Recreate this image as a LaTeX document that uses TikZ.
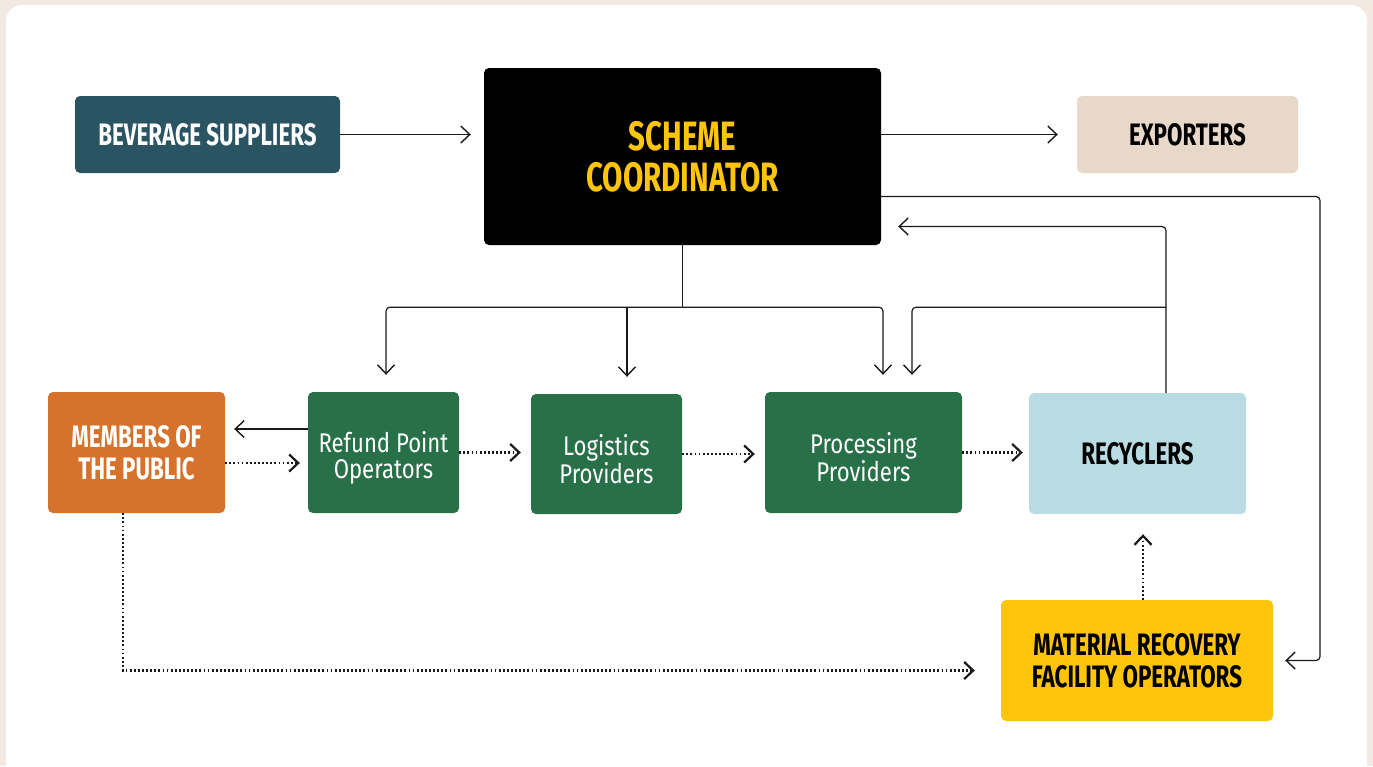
\documentclass[tikz,border=0pt]{standalone}
\usepackage{fontspec}
\usetikzlibrary{arrows.meta,calc}
\newfontfamily\labelfont{Fira Sans}[FakeStretch=0.72]
\newfontfamily\namefont{Fira Sans}[FakeStretch=0.82]
% taller first line pushes two-line names slightly down in their box
\newcommand{\toppad}{\rule{0pt}{31pt}}

\definecolor{pagebg}{HTML}{F2E9E2}
\definecolor{tealbox}{HTML}{2B5463}
\definecolor{orangebox}{HTML}{D6722B}
\definecolor{greenbox}{HTML}{287048}
\definecolor{bluebox}{HTML}{B8DCE1}
\definecolor{yellowbox}{HTML}{FFC40C}
\definecolor{sandbox}{HTML}{E7D8C9}
\definecolor{linecol}{HTML}{1A1A1A}

\tikzset{
  box/.style={rounded corners=5pt, inner sep=0pt, align=center, draw=none},
  capsbox/.style={box, font=\labelfont\bfseries\fontsize{31}{32}\selectfont},
  mixbox/.style={box, font=\namefont\fontsize{27}{26}\selectfont, fill=greenbox, text=white},
  solidarr/.style={draw=linecol, line width=1.2pt, rounded corners=4pt,
    -{Straight Barb[length=9pt,width=17pt,line width=1.4pt]}},
  plainline/.style={draw=linecol, line width=1.2pt, rounded corners=4pt},
  dotarr/.style={draw=linecol, line width=2.2pt, dash pattern=on 1.8pt off 2.3pt,
    -{Straight Barb[length=9pt,width=17pt,line width=2.2pt,sep=0pt]}},
}

\begin{document}
\begin{tikzpicture}[x=1pt,y=-1pt]
\useasboundingbox (0,0) rectangle (1373,766);
% page backdrop
\begin{scope}
  \clip (0,0) rectangle (1373,766);
  \fill[pagebg] (0,0) rectangle (1373,766);
  \fill[white, rounded corners=16pt] (6,5) rectangle (1367,800);
\end{scope}

% boxes
\node[capsbox, fill=tealbox, text=white, minimum width=265pt, minimum height=77pt]
  (bev) at (207.5,134.5) {BEVERAGE SUPPLIERS};
\node[box, fill=black, text=yellowbox, minimum width=397pt, minimum height=177pt,
  font=\labelfont\bfseries\fontsize{41}{41}\selectfont]
  (sc) at (682.5,156.5) {SCHEME\\COORDINATOR};
\node[capsbox, fill=sandbox, text=black, minimum width=221pt, minimum height=77pt]
  (ex) at (1187.5,134.5) {EXPORTERS};
\node[capsbox, fill=orangebox, text=white, minimum width=177pt, minimum height=121pt]
  (mp) at (136.5,452.5) {MEMBERS OF\\THE PUBLIC};
\node[mixbox, minimum width=151pt, minimum height=121pt]
  (rpo) at (383.5,452.5) {\toppad Refund Point\\Operators};
\node[mixbox, minimum width=151pt, minimum height=120pt]
  (lp) at (606.5,454) {\toppad Logistics\\Providers};
\node[mixbox, minimum width=197pt, minimum height=121pt]
  (proc) at (863.5,452.5) {\toppad Processing\\Providers};
\node[capsbox, fill=bluebox, text=black, minimum width=217pt, minimum height=121pt]
  (rec) at (1137.5,453.5) {RECYCLERS};
\node[capsbox, fill=yellowbox, text=black, minimum width=272pt, minimum height=121pt]
  (mrf) at (1137,660.5) {MATERIAL RECOVERY\\FACILITY OPERATORS};

% helper coordinates for the routing rails
\coordinate (bus) at ($(sc.south)+(0,62)$);
\coordinate (railR) at (1320,0);
\coordinate (fb) at (1166,0);
\coordinate (ld) at ($(lp.north)+(20.5,0)$);
\coordinate (pd) at ($(proc.north)+(19.5,0)$);
\coordinate (pd2) at ($(proc.north)+(48.5,0)$);
\coordinate (rd) at ($(rpo.north)+(2.5,0)$);
\coordinate (mu) at ($(mrf.north)+(6,0)$);
\coordinate (md) at ($(mp.south)+(-13.5,0)$);

% top row
\draw[solidarr, shorten >=13pt] (bev.east) -- (bev.east -| sc.west);
\draw[solidarr, shorten >=19pt] (ex.west -| sc.east) -- (ex.west);

% coordinator down to the service providers
\draw[plainline] (sc.south) -- (bus);
\draw[solidarr, shorten >=17pt] (bus) -| (rd);
\draw[solidarr, shorten >=17pt] (bus) -| (pd);
\draw[solidarr, shorten >=17pt] (ld |- bus) -- (ld);

% coordinator out to material recovery facilities
\draw[solidarr, shorten >=12pt] ($(sc.east)+(0,40)$) -| (railR |- mrf.east) -- (mrf.east);

% recyclers back to coordinator and processors
\draw[solidarr, shorten >=17pt] (fb |- rec.north) |- ($(sc.east)+(0,70)$);
\draw[solidarr, shorten >=17pt] (fb |- bus) -| (pd2);

% refund point back to the public
\draw[solidarr, shorten >=9pt] ($(rpo.west)+(0,-23.5)$) -- ($(mp.east)+(0,-23.5)$);

% material flow (dotted)
\draw[dotarr, shorten >=8pt] ($(mp.east)+(0,10.5)$) -- ($(rpo.west)+(0,10.5)$);
\draw[dotarr, shorten >=10pt] (rpo.east) -- (rpo.east -| lp.west);
\draw[dotarr, shorten >=10pt] (lp.east) -- (lp.east -| proc.west);
\draw[dotarr, shorten >=6pt] (proc.east) -- (proc.east -| rec.west);
\draw[dotarr, shorten >=20pt] (mu) -- (mu |- rec.south);
\draw[dotarr, shorten >=26pt] (md) |- ($(mrf.west)+(0,10)$);
\end{tikzpicture}
\end{document}
